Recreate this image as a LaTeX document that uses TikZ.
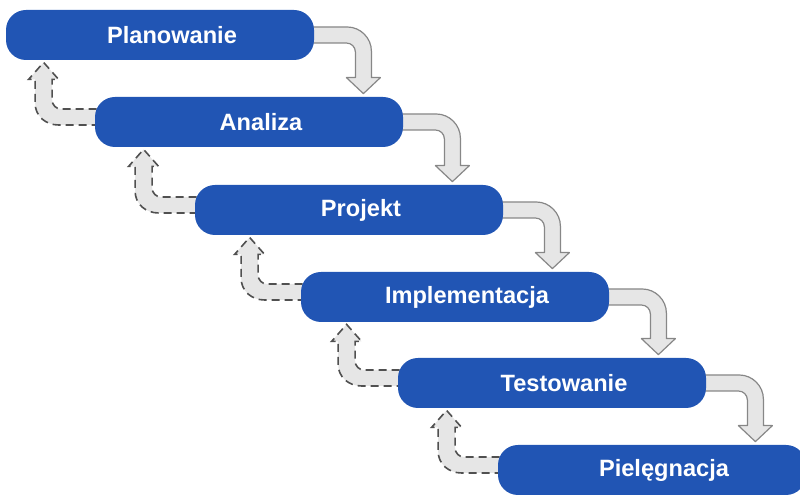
\documentclass[tikz,border=0pt]{standalone}
\usepackage{fontspec}
\setmainfont{Liberation Sans}
\usetikzlibrary{calc,backgrounds}

\definecolor{phaseblue}{RGB}{33,85,180}
\definecolor{flowfill}{RGB}{230,230,230}
\definecolor{flowline}{RGB}{135,135,135}
\definecolor{loopline}{RGB}{80,80,80}

% forward arrow: from right end of #1 down onto #2
\newcommand{\stepdown}[2]{%
	\coordinate (v) at ($(#1.east)+(49,0)$);
	\coordinate (t) at ($(v |- #2.north)+(0,-3)$);
	\draw[downflow] ($(#1.east)+(-15,-8)$) -- ($(v)+(-16,-8)$) .. controls ($(v)+(-3,-8)$) and ($(v)+(8,3)$) .. ($(v)+(8,16)$) -- ($(t)+(8,-16)$) -- ($(t)+(17,-16)$) -- (t) -- ($(t)+(-17,-16)$) -- ($(t)+(-8,-16)$) -- ($(v)+(-8,17)$) .. controls ($(v)+(-8,12)$) and ($(v)+(-12,8)$) .. ($(v)+(-17,8)$) -- ($(#1.east)+(-15,8)$) -- cycle;
}
% back arrow: from left end of #1 up to #2
\newcommand{\stepback}[2]{%
	\coordinate (v) at ($(#1.west)+(-51,-5)$);
	\coordinate (t) at ($(v |- #2.south)+(0,2)$);
	\draw[backflow] ($(#1.west)+(15,-13)$) -- ($(v)+(17.5,-8)$) .. controls ($(v)+(12.5,-8)$) and ($(v)+(8.5,-12)$) .. ($(v)+(8.5,-17)$) -- ($(t)+(8.5,17)$) -- ($(t)+(15,17)$) -- (t) -- ($(t)+(-15,17)$) -- ($(t)+(-8.5,17)$) -- ($(v)+(-8.5,-14)$) .. controls ($(v)+(-8.5,-1)$) and ($(v)+(2,8)$) .. ($(v)+(15,8)$) -- ($(#1.west)+(15,3)$) -- cycle;
}

\begin{document}
\begin{tikzpicture}[
		x=0.5pt, y=-0.5pt,
		phase/.style={rectangle, rounded corners=10pt, fill=phaseblue, text=white, minimum width=154pt, minimum height=25pt, inner sep=0pt, font=\fontsize{11.8}{14}\selectfont\bfseries, execute at begin node=\hspace*{12pt}},
		downflow/.style={fill=flowfill, draw=flowline, line width=0.6pt, line join=round},
		backflow/.style={fill=flowfill, draw=loopline, line width=0.8pt, dash pattern=on 4pt off 2.5pt}
		]
		\useasboundingbox (0,0) rectangle (800,496);
		\node[phase] (plan) at (160,35) {Planowanie};
		\node[phase] (anal) at (249,122) {Analiza};
		\node[phase] (proj) at (349,210) {Projekt};
		\node[phase] (impl) at (455,297) {Implementacja};
		\node[phase] (test) at (552,383) {Testowanie};
		\node[phase] (care) at (652,470) {Pielęgnacja};
		
		\begin{scope}[on background layer]
			\stepdown{plan}{anal}
			\stepdown{anal}{proj}
			\stepdown{proj}{impl}
			\stepdown{impl}{test}
			\stepdown{test}{care}
			\stepback{anal}{plan}
			\stepback{proj}{anal}
			\stepback{impl}{proj}
			\stepback{test}{impl}
			\stepback{care}{test}
		\end{scope}
	\end{tikzpicture}
\end{document}
